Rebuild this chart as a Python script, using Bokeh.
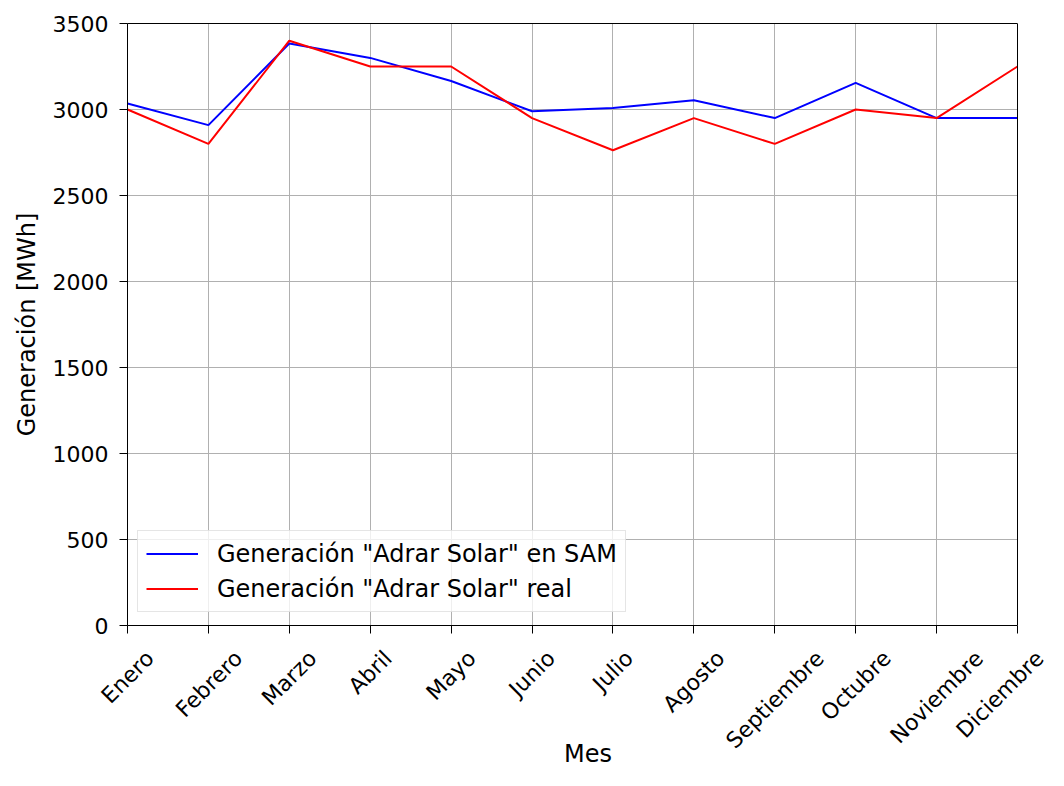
import math
from bokeh.plotting import figure
from bokeh.models import (ColumnDataSource, Range1d, FixedTicker, Legend,
                          LegendItem, LinearAxis, CustomJSTickFormatter, Span)
from bokeh.embed import file_html
from bokeh.resources import INLINE

# ---- data -------------------------------------------------------------
meses = ["Enero", "Febrero", "Marzo", "Abril", "Mayo", "Junio", "Julio",
         "Agosto", "Septiembre", "Octubre", "Noviembre", "Diciembre"]
gen_sam = [3035, 2909, 3384, 3300, 3166, 2990, 3009, 3054, 2950, 3155, 2950, 2950]
gen_real = [3000, 2800, 3400, 3250, 3250, 2950, 2763, 2950, 2800, 3000, 2950, 3250]
y_ticks = [0, 500, 1000, 1500, 2000, 2500, 3000, 3500]
serie_sam = 'Generación "Adrar Solar" en SAM'
serie_real = 'Generación "Adrar Solar" real'
x_title = "Mes"
y_title = "Generación [MWh]"

# ---- style ------------------------------------------------------------
FONT = "DejaVu Sans"
TICK_FS = 22
MONTH_FS = 22
LEG_FS = 24
TITLE_FS = 24

W_CANVAS, H_CANVAS = 1048, 770
LEFT, TOP = 127, 23
AXES_W, FRAME_H = 890, 602          # width of the drawn axes box
x_idx = list(range(len(meses)))
x_last = len(meses) - 1
px_per_unit = AXES_W / x_last
FRAME_W = W_CANVAS - LEFT           # frame runs to the canvas edge (room for labels)
x_end = FRAME_W / px_per_unit

p = figure(width=W_CANVAS, height=H_CANVAS, output_backend="svg", toolbar_location=None,
           x_range=Range1d(0, x_end), y_range=Range1d(y_ticks[0], y_ticks[-1]),
           min_border_left=LEFT, min_border_top=TOP, min_border_right=0,
           min_border_bottom=H_CANVAS - TOP - FRAME_H)
p.background_fill_color = "white"
p.border_fill_color = "white"
p.outline_line_color = None

empty = CustomJSTickFormatter(code="return ''")

# x axis A (the figure's own): bottom spine + tick marks
xa = p.below[0]
xa.bounds = (0, x_last)
xt = FixedTicker(ticks=x_idx)
xa.ticker = xt
xa.axis_line_color = "black"
xa.major_tick_line_color = "black"
xa.major_tick_out = 8
xa.major_tick_in = 0
xa.minor_tick_line_color = None
xa.formatter = empty
xa.major_label_standoff = 0

# y axis
ya = p.left[0]
ya.ticker = FixedTicker(ticks=y_ticks)
ya.axis_line_color = "black"
ya.major_tick_line_color = "black"
ya.major_tick_out = 8
ya.major_tick_in = 0
ya.minor_tick_line_color = None
ya.major_label_text_font = FONT
ya.major_label_text_font_size = f"{TICK_FS}px"
ya.major_label_text_color = "black"
ya.major_label_standoff = 11
ya.axis_label = y_title
ya.axis_label_text_font = FONT
ya.axis_label_text_font_size = f"{TITLE_FS}px"
ya.axis_label_text_font_style = "normal"
ya.axis_label_text_color = "black"
ya.axis_label_standoff = 9

# grid lines (restricted to the axes box)
p.xgrid.ticker = xt
p.xgrid.grid_line_color = "#b0b0b0"
p.xgrid.grid_line_width = 1
p.ygrid.visible = False
gsrc = ColumnDataSource(dict(x0=[0] * len(y_ticks), x1=[x_last] * len(y_ticks),
                             y=y_ticks))
p.segment(x0="x0", x1="x1", y0="y", y1="y", source=gsrc,
          line_color="#b0b0b0", line_width=1)

src = ColumnDataSource(dict(x=x_idx, sam=gen_sam, real=gen_real))
r1 = p.line("x", "sam", source=src, line_color="#0000ff", line_width=2)
r2 = p.line("x", "real", source=src, line_color="#ff0000", line_width=2)

# right spine
p.add_layout(Span(location=x_last, dimension="height", line_color="black",
                  line_width=1))

# top spine
top = LinearAxis(bounds=(0, x_last), ticker=FixedTicker(ticks=[]), formatter=empty)
top.axis_line_color = "black"
top.major_tick_line_color = None
top.minor_tick_line_color = None
top.major_tick_out = 0
top.major_tick_in = 0
top.major_label_standoff = 0
p.add_layout(top, "above")

# x axis B: month names, rotated 45 deg and centred on their ticks
W = {"E": .632, "n": .634, "e": .615, "r": .411, "o": .612, "F": .575, "b": .635,
     "M": .863, "a": .613, "z": .525, "A": .684, "i": .278, "l": .278, "y": .592,
     "J": .295, "u": .634, "g": .635, "s": .521, "t": .392, "S": .635, "p": .635,
     "m": .974, "c": .550, "O": .787, "N": .748, "v": .592, "D": .770}
shifted = []
for i, m in zip(x_idx, meses):
    w = sum(W.get(c, 0.6) for c in m) * MONTH_FS
    off = (w / (2 * math.sqrt(2))) / px_per_unit
    off = min(off, x_end - i - 8 / px_per_unit)
    shifted.append(i + off)

xb = LinearAxis(ticker=FixedTicker(ticks=shifted),
                formatter=CustomJSTickFormatter(args=dict(names=meses),
                                                code="return names[Math.floor(tick + 1e-6)]"))
xb.major_label_orientation = math.pi / 4
xb.axis_line_color = None
xb.major_tick_line_color = None
xb.minor_tick_line_color = None
xb.major_tick_out = 0
xb.major_tick_in = 0
xb.major_label_text_font = FONT
xb.major_label_text_font_size = f"{MONTH_FS}px"
xb.major_label_text_color = "black"
xb.major_label_standoff = 21
p.add_layout(xb, "below")

# x axis C: only the title
xc = LinearAxis(bounds=(0, x_last), ticker=FixedTicker(ticks=[]), formatter=empty)
xc.axis_line_color = None
xc.major_tick_line_color = None
xc.minor_tick_line_color = None
xc.major_tick_out = 0
xc.major_tick_in = 0
xc.major_label_standoff = 0
xc.axis_label = x_title
xc.axis_label_text_font = FONT
xc.axis_label_text_font_size = f"{TITLE_FS}px"
xc.axis_label_text_font_style = "normal"
xc.axis_label_text_color = "black"
xc.axis_label_standoff = -26
p.add_layout(xc, "below")

legend = Legend(items=[LegendItem(label=serie_sam, renderers=[r1]),
                       LegendItem(label=serie_real, renderers=[r2])],
                location=(10, 13))
legend.label_text_font = FONT
legend.label_text_font_size = f"{LEG_FS}px"
legend.label_text_color = "black"
legend.glyph_width = 52
legend.glyph_height = 29
legend.label_height = 29
legend.label_standoff = 19
legend.spacing = 6
legend.padding = 8
legend.border_line_color = "#cccccc"
legend.border_line_width = 1
legend.background_fill_color = "white"
legend.background_fill_alpha = 0.8
p.add_layout(legend)

open("out.html", "w").write(file_html(p, INLINE))
